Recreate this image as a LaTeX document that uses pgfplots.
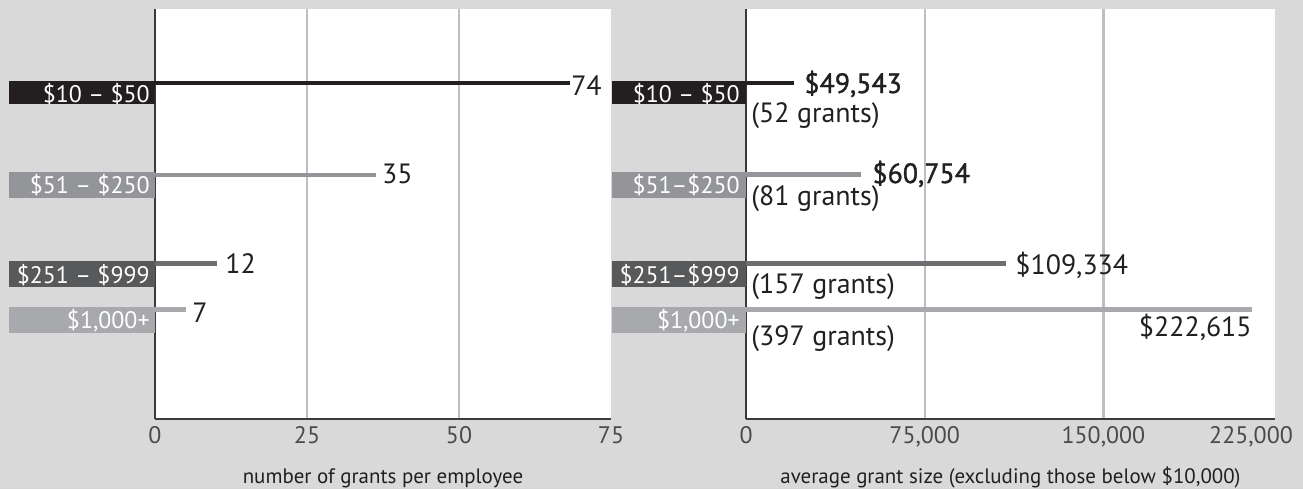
\documentclass[border=0pt]{standalone}
\usepackage{pgfplots}
\pgfplotsset{compat=1.18}
\usepackage{fontspec}
\setmainfont{PT Sans}
\newfontfamily\semib[FakeBold=1.2]{PT Sans}
\definecolor{bg}{HTML}{D9D9D9}
\definecolor{cA}{HTML}{231F20}
\definecolor{cB}{HTML}{939598}
\definecolor{cC}{HTML}{6D6E71}
\definecolor{cCbox}{HTML}{58595B}
\definecolor{cD}{HTML}{A7A9AC}
\definecolor{axc}{HTML}{3A3A3A}
\definecolor{gridc}{HTML}{BEBFC2}
\definecolor{tickc}{HTML}{4A4A4C}
\newcommand\boxfont{\fontsize{12}{14}\selectfont}
\newcommand\valfont{\fontsize{14}{16}\selectfont}
% #1 colour, #2 top y, #3 bottom y, #4 width, #5 baseline y, #6 pad, #7 text
\newcommand\catbox[7]{%
  \fill[#1] ([xshift=-#4]axis cs:0,#2) rectangle (axis cs:0,#3);
  \node[anchor=base east, inner sep=0pt, text=white, font=\boxfont] at ([xshift=-#6]axis cs:0,#5) {#7};
}
\pgfplotsset{
  base/.style={
    scale only axis, anchor=south west, clip=false,
    axis lines*=left, axis line style={draw=axc, line width=0.9bp, -},
    axis background/.style={fill=white},
    ymin=0, ymax=410, ytick=\empty,
    major tick length=0pt,
    xmajorgrids, major grid style={draw=gridc, line width=1.2bp},
    tick label style={font=\fontsize{12}{14}\selectfont, text=tickc},
    xticklabel style={anchor=base, yshift=-12bp, inner sep=0pt},
    label style={font=\fontsize{10.5}{12}\selectfont, text=cA},
    xlabel style={at={(rel axis cs:0.5,0)}, anchor=base, yshift=-32bp, inner sep=0pt},
    /pgf/number format/fixed,
    /pgf/number format/precision=0,
    /pgf/number format/assume math mode=true,
    /pgf/number format/1000 sep={,},
    scaled x ticks=false,
  }
}
\begin{document}
\begin{tikzpicture}[x=1bp,y=1bp]
\fill[bg] (0,0) rectangle (651.5,244.5);
\useasboundingbox (0,0) rectangle (651.5,244.5);

% ---------------- left panel ----------------
\begin{axis}[base, at={(77.5bp,35bp)}, width=228bp, height=205bp,
  xmin=0, xmax=75, xtick={0,25,50},
  extra x ticks={75}, extra x tick style={grid=none},
  xlabel={number of grants per employee}]
\catbox{cA}{338}{315}{73bp}{317}{2.5bp}{\$10 – \$50}
\catbox{cB}{247}{221}{73bp}{226}{2.5bp}{\$51 – \$250}
\catbox{cCbox}{158}{132}{73bp}{136}{2.5bp}{\$251 – \$999}
\catbox{cD}{112}{86}{73bp}{91}{2.5bp}{\$1,000+}
\addplot[cA, line width=2.2bp] coordinates {(0,336) (68.3,336)};
\addplot[cB, line width=2.2bp] coordinates {(0,244) (36.3,244)};
\addplot[cC, line width=2.2bp] coordinates {(0,155.5) (10.2,155.5)};
\addplot[cD, line width=2.2bp] coordinates {(0,109.5) (5.1,109.5)};
\node[anchor=base west, inner sep=0pt, font=\valfont, text=cA] at (axis cs:68.4,324) {74};
\node[anchor=base west, inner sep=0pt, font=\valfont, text=cA] at (axis cs:37.3,236) {35};
\node[anchor=base west, inner sep=0pt, font=\valfont, text=cA] at (axis cs:11.5,146) {12};
\node[anchor=base west, inner sep=0pt, font=\valfont, text=cA] at (axis cs:6.1,97) {7};
\end{axis}

% ---------------- right panel ----------------
\begin{axis}[base, at={(373bp,35bp)}, width=264.5bp, height=205bp,
  xmin=0, xmax=222000, xtick={0,75000,150000},
  xticklabels={0,75{,}000,150{,}000},
  extra x ticks={222000}, extra x tick labels={225{,}000},
  extra x tick style={grid=none, xticklabel style={xshift=-12bp}},
  xlabel={average grant size (excluding those below \$10,000)}]
\catbox{cA}{338}{315}{67bp}{317}{3bp}{\$10 – \$50}
\catbox{cB}{247}{221}{67bp}{226}{3bp}{\$51–\$250}
\catbox{cCbox}{158}{132}{67bp}{136}{3bp}{\$251–\$999}
\catbox{cD}{112}{86}{67bp}{91}{3bp}{\$1,000+}
\addplot[cA, line width=2.2bp] coordinates {(0,336) (20140,336)};
\addplot[cB, line width=2.2bp] coordinates {(0,244.5) (48260,244.5)};
\addplot[cC, line width=2.2bp] coordinates {(0,155.5) (109110,155.5)};
\addplot[cD, line width=2.2bp] coordinates {(0,109.5) (212350,109.5)};
\node[anchor=base west, inner sep=0pt, font=\semib\fontsize{14}{16}\selectfont, text=cA] at (axis cs:24340,326) {\$49,543};
\node[anchor=base west, inner sep=0pt, font=\valfont, text=cA] at (axis cs:2100,297) {(52 grants)};
\node[anchor=base west, inner sep=0pt, font=\semib\fontsize{14}{16}\selectfont, text=cA] at (axis cs:52880,236) {\$60,754};
\node[anchor=base west, inner sep=0pt, font=\valfont, text=cA] at (axis cs:2100,214) {(81 grants)};
\node[anchor=base west, inner sep=0pt, font=\valfont, text=cA] at (axis cs:112890,145) {\$109,334};
\node[anchor=base west, inner sep=0pt, font=\valfont, text=cA] at (axis cs:2100,126) {(157 grants)};
\node[anchor=base east, inner sep=0pt, font=\valfont, text=cA] at (axis cs:212350,83) {\$222,615};
\node[anchor=base west, inner sep=0pt, font=\valfont, text=cA] at (axis cs:2100,74) {(397 grants)};
\end{axis}
\end{tikzpicture}
\end{document}
